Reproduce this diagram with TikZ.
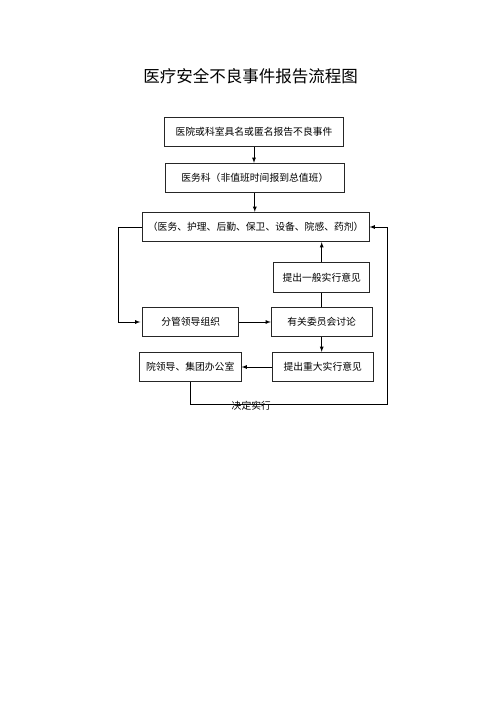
\documentclass[tikz,border=0pt]{standalone}
\usepackage{fontspec}
\newfontfamily\cjk{Noto Sans CJK SC}
\usetikzlibrary{arrows,positioning,calc}

\begin{document}
\begin{tikzpicture}[x=1pt,y=-1pt,>=latex,
			blk/.style={rectangle,draw=black!85,line width=0.8pt,inner sep=0pt,minimum height=29.5pt,font=\cjk\fontsize{9.8}{10}\selectfont},
			lnk/.style={black,line width=0.8pt}]
		\useasboundingbox (0,0) rectangle (500,707);
		\path 	(250.5,76.5) 	node 	(title) [font=\cjk\fontsize{16.5}{18}\selectfont] {医疗安全不良事件报告流程图}
		        (254,132) 	node 	(report) [blk, minimum width=179pt] {医院或科室具名或匿名报告不良事件}
		        (254.8,178) node 	(yiwu) [blk, minimum width=179pt] {医务科（非值班时间报到总值班）}
		        (255.7,227) node 	(depts) [blk, minimum width=227pt] {（医务、护理、后勤、保卫、设备、院感、药剂）}
		        (321.7,277.5) node 	(yiban) [blk, minimum width=96pt] {提出一般实行意见}
		        (190.7,322) node 	(fenguan) [blk, minimum width=96pt] {分管领导组织}
		        (321.7,322) node 	(weiyuan) [blk, minimum width=101pt] {有关委员会讨论}
		        (322.7,367) node 	(zhongda) [blk, minimum width=101pt] {提出重大实行意见}
		        (190.2,367) node 	(lingdao) [blk, minimum width=102pt] {院领导、集团办公室};
		\coordinate (turn) at (387.3,404);
		\coordinate (back) at (118.3,227);
		\draw [lnk,->] (report.south) -- (report.south |- yiwu.north);
		\draw [lnk,->] (yiwu.south) -- (yiwu.south |- depts.north);
		\draw [lnk,->] (depts.west) -- (back) |- ([xshift=-2pt]fenguan.west);
		\draw [lnk,->] (fenguan) -- (weiyuan);
		\draw [lnk] (weiyuan) -- (yiban);
		\draw [lnk,->] (yiban.north) -- (yiban.north |- depts.south);
		\draw [lnk,->] (weiyuan.south -| zhongda.north) ++(-1,0) -- ([xshift=-1pt]zhongda.north);
		\draw [lnk,->] (zhongda) -- (lingdao);
		\draw [lnk,->] (lingdao.south) |- (turn) |- (depts.east);
		\path ($(lingdao.south |- turn)!0.31!(turn)$) node (jueding) [font=\cjk\fontsize{9.8}{10}\selectfont, yshift=-2pt] {决定实行};
	\end{tikzpicture}
\end{document}
